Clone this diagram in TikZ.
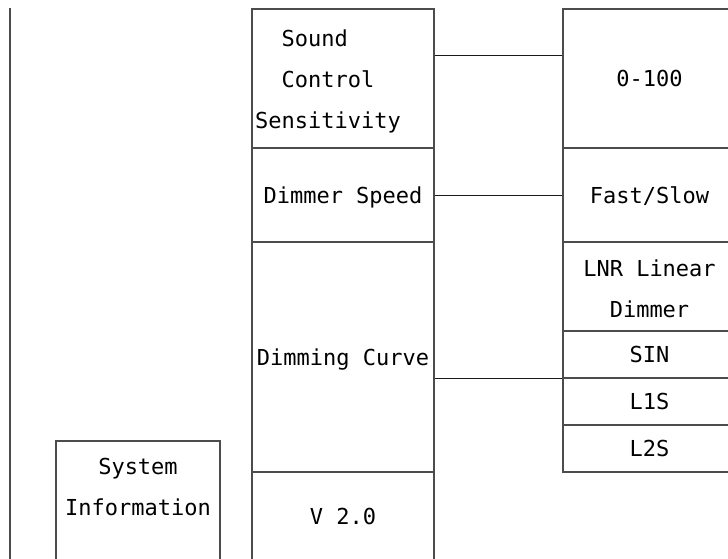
\documentclass[tikz,border=0pt]{standalone}
\usepackage{fontspec}
\newfontfamily\monofnt{DejaVu Sans Mono}
\begin{document}
\begin{tikzpicture}[x=1pt,y=-1pt,
  cell/.style={draw=black!70, line width=1.3pt, rectangle, inner sep=0pt, align=center,
    font=\monofnt\fontsize{22}{42}\selectfont, text height=16pt, text depth=-2pt},
  box/.style={draw=black!70, line width=1.3pt, rectangle, inner sep=0pt},
  txt/.style={inner sep=0pt, font=\monofnt\fontsize{22}{41}\selectfont},
  link/.style={draw=black!90, line width=1pt}]
\useasboundingbox (0,0) rectangle (728,559);
\clip (0,0) rectangle (728,559);
% left rule
\coordinate (ltop) at (10,8);
\coordinate (lbot) at (10,570);
\draw[box] (ltop) -- (lbot);
% middle column
\node[box, minimum width=182pt, minimum height=139pt] (sound) at (343,78.5) {};
\node[txt, align=left, anchor=base west] (soundtxt) at (255,129) {\hphantom{SS}Sound\\\hphantom{SS}Control\\Sensitivity};
\node[cell, minimum width=182pt, minimum height=94pt] (speed) at (343,195) {Dimmer Speed};
\node[cell, minimum width=182pt, minimum height=230pt] (curve) at (343,357) {Dimming Curve};
\node[cell, minimum width=182pt, minimum height=88pt] (ver) at (343,516) {V 2.0};
% system info
\node[box, minimum width=164pt, minimum height=140pt] (sys) at (138,511) {};
\node[txt, align=center] (systxt) at (138,487) {System\\Information};
% right column
\node[cell, minimum width=173pt, minimum height=139pt] (zero) at (649.5,78.5) {0-100};
\node[cell, minimum width=173pt, minimum height=94pt] (fast) at (649.5,195) {Fast/Slow};
\node[box, minimum width=173pt, minimum height=89pt] (lnr) at (649.5,286.5) {};
\node[txt, align=center] (lnrtxt) at (649.5,289) {LNR Linear\\Dimmer};
\node[cell, minimum width=173pt, minimum height=47pt] (sin) at (649.5,354.5) {SIN};
\node[cell, minimum width=173pt, minimum height=47pt] (lone) at (649.5,401.5) {L1S};
\node[cell, minimum width=173pt, minimum height=47pt] (ltwo) at (649.5,448.5) {L2S};
% connectors
\draw[link] ([yshift=22.5pt]sound.east) coordinate (c1) -- (c1 -| zero.west);
\draw[link] (speed.east) -- (fast.west);
\draw[link] ([yshift=-21pt]curve.east) coordinate (c3) -- (c3 -| lnr.west);
\end{tikzpicture}
\end{document}
